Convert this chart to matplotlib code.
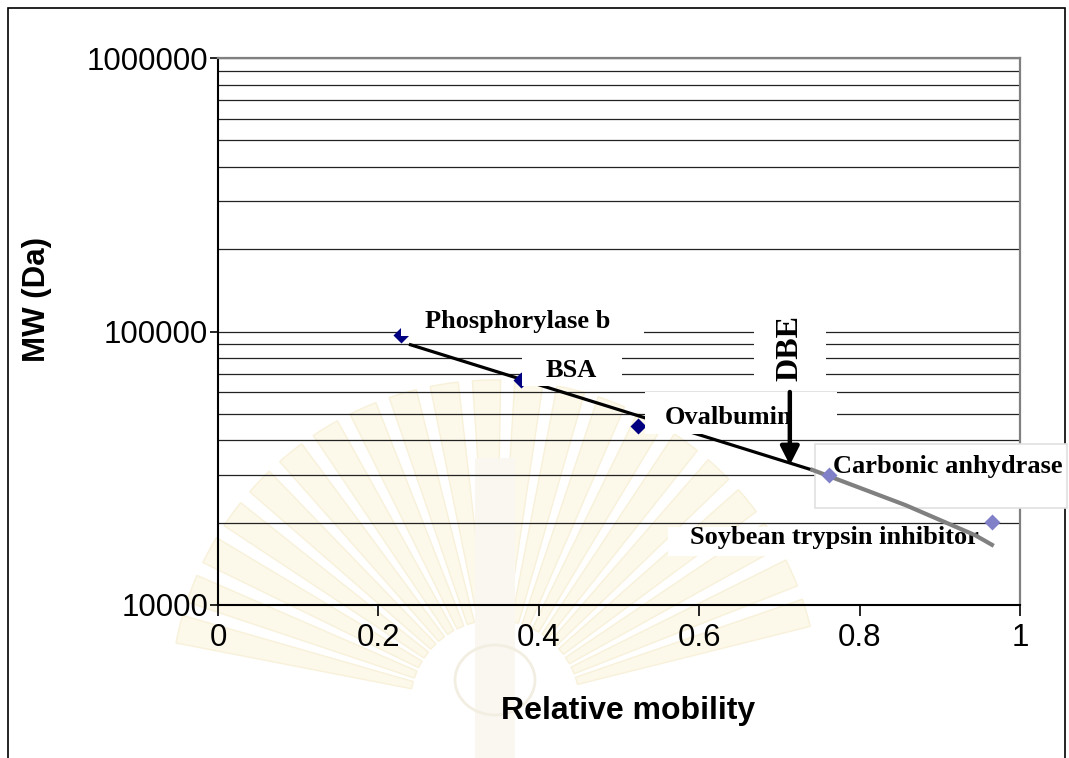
import numpy as np
import matplotlib
matplotlib.use("Agg")
import matplotlib.pyplot as plt
from matplotlib.patches import Rectangle, Wedge, Ellipse
from matplotlib.ticker import LogLocator, FuncFormatter, NullFormatter
from matplotlib.transforms import IdentityTransform

# protein standards: relative mobility vs molecular weight
proteins = ["Phosphorylase b", "BSA", "Ovalbumin", "Carbonic anhydrase", "Soybean trypsin inhibitor"]
mobility = [0.228, 0.378, 0.524, 0.762, 0.965]
mw = [97400, 66200, 45000, 30000, 20100]
n_dark = 3  # first three standards drawn in navy, the rest in lavender

# second (grey) calibration curve through the low-mass end
low_curve_x = [0.741, 0.857, 0.944, 0.965]
low_curve_mw = [31200, 23200, 18000, 16600]

# black exponential trend line range
fit_range = [0.24, 0.75]

# DBE band
dbe_mobility = 0.713
dbe_arrow_mw = [60100, 32500]

W, H, DPI = 1069, 758, 100
fig = plt.figure(figsize=(W / DPI, H / DPI), dpi=DPI)

# faint emblem in the page background
bg = fig.add_axes([0, 0, 1, 1], zorder=-1)
bg.set_xlim(0, W)
bg.set_ylim(0, H)
bg.axis("off")
cx, cy = 495, H - 705
for i, ang in enumerate(np.arange(14, 166, 7.5)):
    bg.add_patch(Wedge((cx, cy), 325, ang, ang + 5.0, width=240, fc="#fcf8ea", ec="#f8f1da",
                       lw=1.0))
bg.add_patch(Rectangle((cx - 20, 0), 40, 300, fc="#faf7f0", ec="none"))
bg.add_patch(Ellipse((cx, H - 680), 80, 70, fc="none", ec="#f3eee2", lw=2))
bg.add_patch(Rectangle((8, -5), 1057, H - 8 + 5, fill=False, ec="black", lw=1.2))

ax = fig.add_axes([218 / W, (H - 605) / H, 802 / W, 547 / H])
ax.set_facecolor("none")
ax.set_yscale("log")
ax.set_xlim(0, 1)
ax.set_ylim(1e4, 1e6)

ax.yaxis.set_major_locator(LogLocator(base=10, numticks=5))
ax.yaxis.set_minor_locator(LogLocator(base=10, subs=np.arange(2, 10), numticks=20))
ax.yaxis.set_major_formatter(FuncFormatter(lambda v, _: f"{v:.0f}"))
ax.yaxis.set_minor_formatter(NullFormatter())
ax.set_xticks([0, 0.2, 0.4, 0.6, 0.8, 1.0])
ax.xaxis.set_major_formatter(FuncFormatter(lambda v, _: f"{v:g}"))

ax.grid(True, which="both", axis="y", color="#222222", lw=0.9, zorder=0.5)
ax.set_axisbelow(True)

for side in ("top", "right"):
    ax.spines[side].set_color("#808080")
    ax.spines[side].set_linewidth(1.6)
for side in ("left", "bottom"):
    ax.spines[side].set_color("black")
    ax.spines[side].set_linewidth(1.5)

sans = "Liberation Sans"
serif = "Liberation Serif"
ax.tick_params(axis="y", which="major", direction="out", length=6, width=1.2, pad=1, labelsize=22.5)
ax.tick_params(axis="y", which="minor", length=0)
ax.tick_params(axis="x", direction="out", length=8, width=1.2, pad=5, labelsize=22.5)
for lab in ax.get_xticklabels() + ax.get_yticklabels():
    lab.set_fontfamily(sans)

ax.set_xlabel("Relative mobility", fontsize=23, fontweight="bold", family=sans)
ax.set_ylabel("MW (Da)", fontsize=22.5, fontweight="bold", family=sans)
ax.xaxis.set_label_coords(0.511, -0.166)
ax.yaxis.set_label_coords(-0.207, 0.558)

# exponential fit over all standards
slope, icpt = np.polyfit(mobility, np.log10(mw), 1)
fx = np.linspace(fit_range[0], fit_range[1], 50)
ax.plot(fx, 10 ** (slope * fx + icpt), color="black", lw=2.3, zorder=2)

ax.plot(mobility[:n_dark], mw[:n_dark], "D", color="#000080", ms=8.5, mec="none", zorder=3)
ax.plot(low_curve_x, low_curve_mw, color="#808080", lw=3, zorder=7)
ax.plot(mobility[n_dark:], mw[n_dark:], "D", color="#8080c8", ms=8.5, mec="none", zorder=8)

# label anchors and white box padding (left, right, top, bottom) in pixels
label_pos = [
    (0.258, 109200, (24, 34, 4, 3), "none"),
    (0.408, 72300, (23, 25, 12, 4), "none"),
    (0.557, 48300, (20, 45, 14, 5), "none"),
    (0.767, 31960, (18, 4, 11, 30), "#e0e0e0"),
    (0.589, 17580, (22, 21, -1, 7), "none"),
]

texts = []
for name, (lx, ly, pads, ec) in zip(proteins, label_pos):
    t = ax.text(lx, ly, name, ha="left", va="center", fontsize=19, fontweight="bold",
                family=serif, zorder=5, clip_on=False)
    texts.append((t, pads, ec))

dbe = ax.text(dbe_mobility, 87100, "DBE", rotation=90, ha="center", va="center", fontsize=23,
              fontweight="bold", family=serif, zorder=5)
texts.append((dbe, (21, 22, 3, 4), "none"))

ax.annotate("", xy=(dbe_mobility, dbe_arrow_mw[1]), xytext=(dbe_mobility, dbe_arrow_mw[0]),
            arrowprops=dict(arrowstyle="-|>,head_length=0.55,head_width=0.28", lw=3.2,
                            color="black", shrinkA=0, shrinkB=0, mutation_scale=20),
            zorder=6)

fig.canvas.draw()
renderer = fig.canvas.get_renderer()
for t, (pl, pr, pt, pb), ec in texts:
    bb = t.get_window_extent(renderer)
    ax.add_patch(Rectangle((bb.x0 - pl, bb.y0 - pb), bb.width + pl + pr, bb.height + pt + pb,
                           transform=IdentityTransform(), fc="white", ec=ec, lw=1.2,
                           zorder=4, clip_on=False))

fig.savefig("out.png", dpi=DPI)
